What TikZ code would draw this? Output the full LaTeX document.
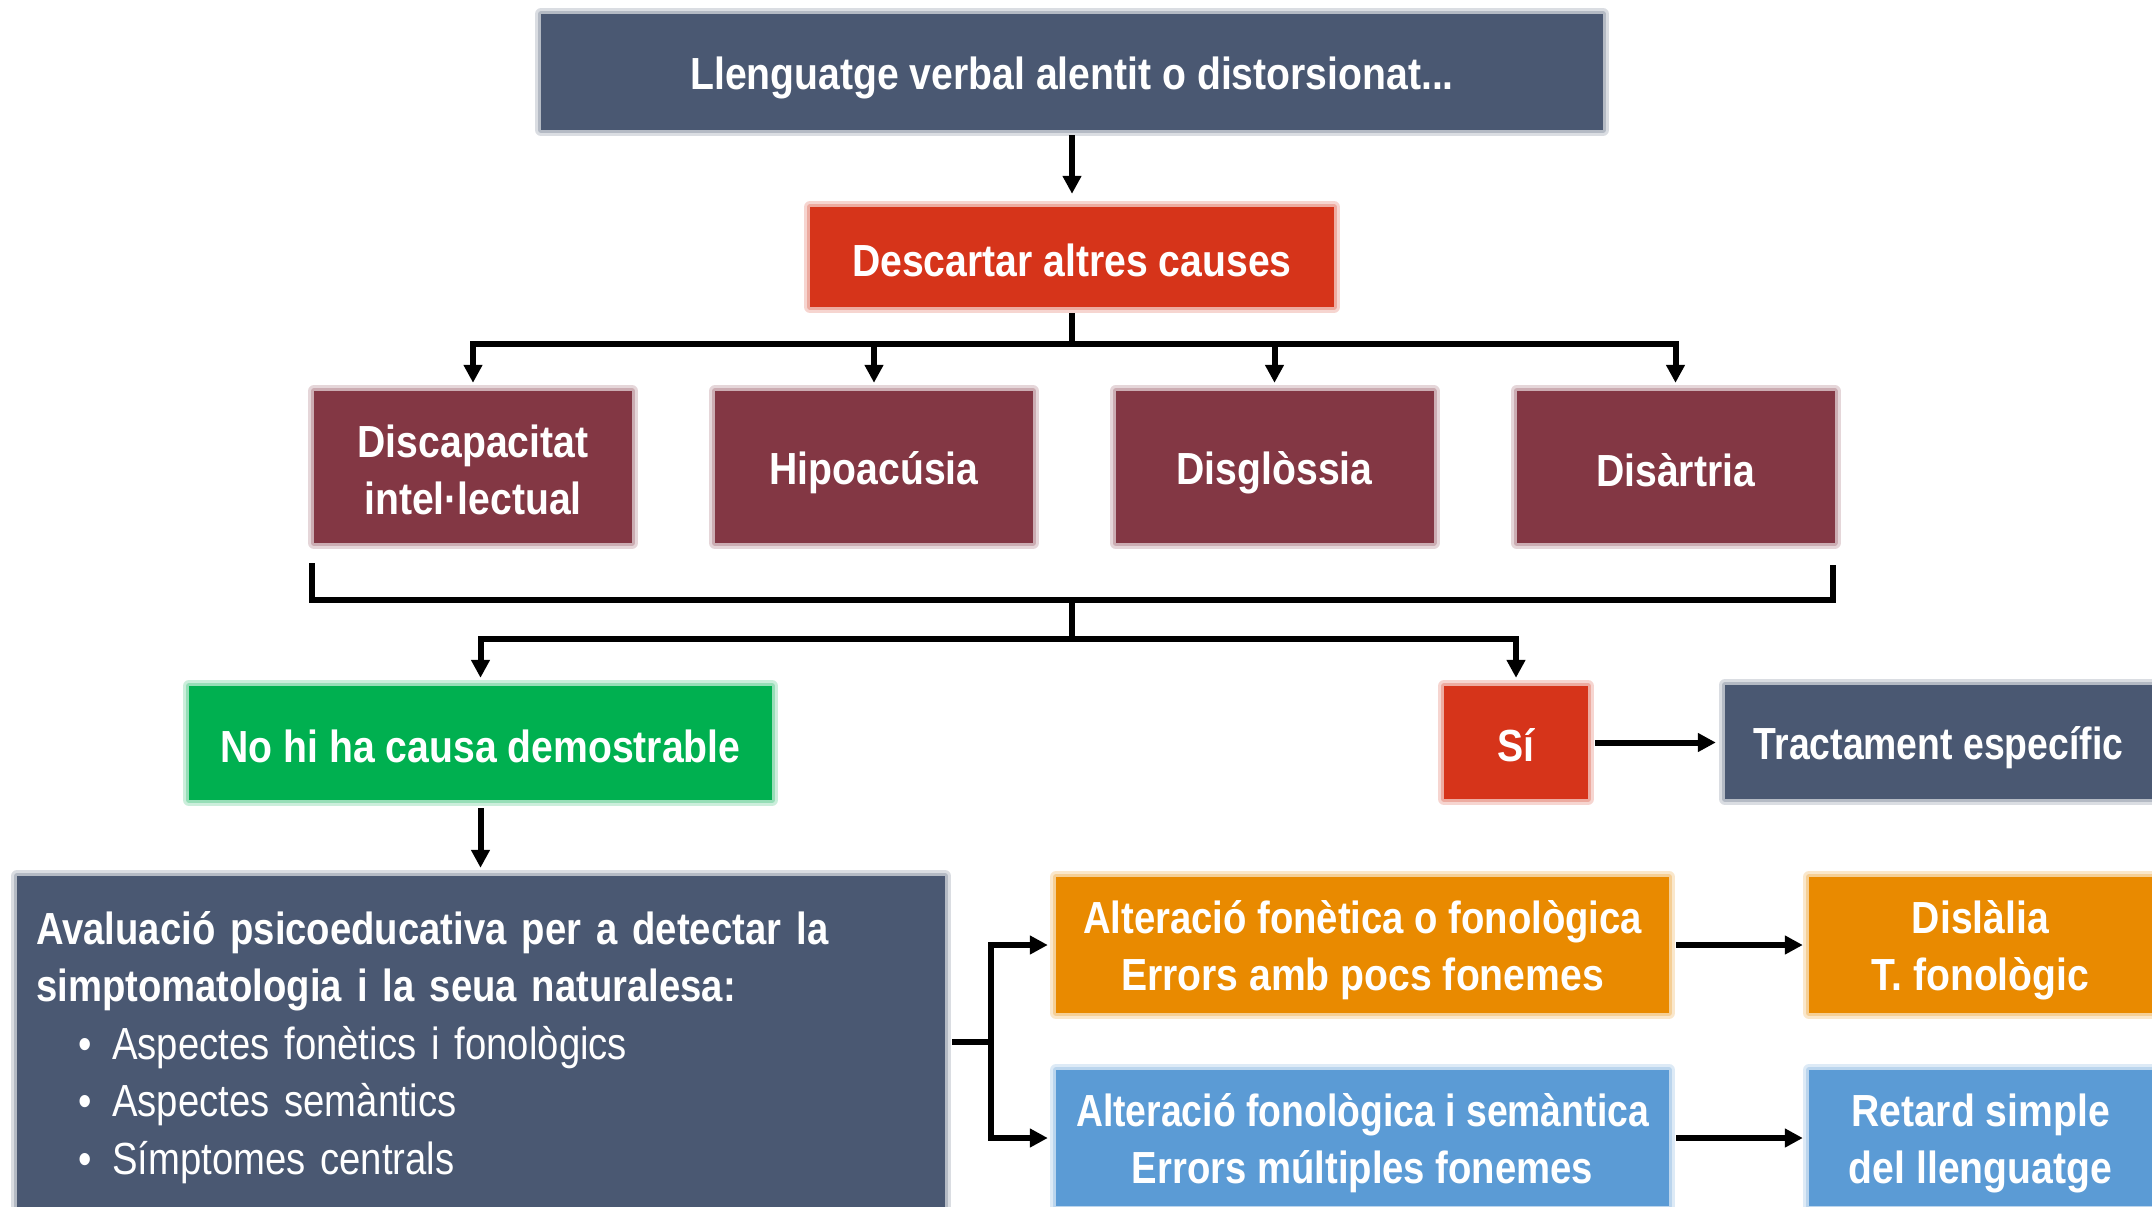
\documentclass[tikz,border=0pt]{standalone}
\usepackage{fontspec}
\setmainfont{Liberation Sans}[FakeStretch=0.87]
\newfontfamily\fsA{Liberation Sans}[FakeStretch=0.85]
\newfontfamily\fsB{Liberation Sans}[FakeStretch=0.83]
\usetikzlibrary{arrows.meta}
\definecolor{slate}{HTML}{4A5872}
\definecolor{cred}{HTML}{D6341A}
\definecolor{maroon}{HTML}{833744}
\definecolor{cgreen}{HTML}{00B050}
\definecolor{corange}{HTML}{E98A00}
\definecolor{cblue}{HTML}{5B9BD5}
\newcommand\mystrut{\rule[-6pt]{0pt}{50pt}}
\newcommand\mybul{\makebox[76pt][l]{\hspace*{42pt}•}}
\tikzset{
  box/.style={rectangle, fill=#1, text=white, inner sep=0pt, align=center,
    font=\bfseries\fontsize{45}{57}\selectfont,
    preaction={draw=#1!45!white, line width=12pt, line join=round, opacity=0.45},
    preaction={draw=#1!55!white, line width=6pt, line join=round, opacity=0.6}},
  conn/.style={line width=6pt, black},
  arr/.style={conn, -{Triangle[length=18pt,width=18pt]}},
}
\begin{document}
\begin{tikzpicture}[x=1pt,y=-1pt]
\clip (0,0) rectangle (2152,1207);
\fill[white] (0,0) rectangle (2152,1207);
% nodes
\node[box=slate, minimum width=1062pt, minimum height=116pt] (top) at (1072,72) {\mystrut Llenguatge verbal alentit o distorsionat...};
\node[box=cred, minimum width=524pt, minimum height=100pt] (desc) at (1072,257) {\mystrut Descartar altres causes};
\node[box=maroon, minimum width=318pt, minimum height=152pt] (m1) at (473,467) {\mystrut Discapacitat\\\mystrut intel·lectual};
\node[box=maroon, minimum width=318pt, minimum height=152pt] (m2) at (874,467) {\mystrut Hipoacúsia};
\node[box=maroon, minimum width=318pt, minimum height=152pt] (m3) at (1274.5,467) {\mystrut Disglòssia};
\node[box=maroon, minimum width=318pt, minimum height=152pt] (m4) at (1675.5,467) {\mystrut Disàrtria};
\node[box=cgreen, minimum width=583pt, minimum height=114pt] (green) at (480.5,743) {\mystrut No hi ha causa demostrable};
\node[box=cred, minimum width=144pt, minimum height=113pt] (si) at (1516,742.5) {\mystrut Sí};
\node[box=slate, minimum width=427pt, minimum height=114pt] (tract) at (1938.5,742) {\fsB\mystrut Tractament específic};
\node[box=slate, minimum width=928pt, minimum height=364pt] (big) at (481,1058) {};
\node[anchor=north west, inner sep=0pt, text width=900pt, align=left, text=white,
  font=\bfseries\fontsize{45}{57.5}\selectfont\fsA] (bigtxt) at (36,892)
  {\rule{0pt}{52pt}Avaluació psicoeducativa per a detectar la\\
   simptomatologia i la seua naturalesa:\\
   {\mdseries\mybul Aspectes fonètics i fonològics}\\
   {\mdseries\mybul Aspectes semàntics}\\
   {\mdseries\mybul Símptomes centrals}};
\node[box=corange, minimum width=613pt, minimum height=136pt] (or1) at (1362.5,945) {\fsA\mystrut Alteració fonètica o fonològica\\\mystrut Errors amb pocs fonemes};
\node[box=corange, minimum width=343pt, minimum height=136pt] (or2) at (1980.5,945) {\mystrut Dislàlia\\\mystrut T. fonològic};
\node[box=cblue, minimum width=613pt, minimum height=136pt] (bl1) at (1362.5,1138) {\fsB\mystrut Alteració fonològica i semàntica\\\fsA\mystrut Errors múltiples fonemes};
\node[box=cblue, minimum width=343pt, minimum height=136pt] (bl2) at (1980.5,1138) {\mystrut Retard simple\\\mystrut del llenguatge};
% coordinates
\coordinate (j1) at (1072,600);
\coordinate (j2) at (1072,639);
\coordinate (j3) at (991,1042);
% connectors
\draw[arr, shorten <=5pt, shorten >=13pt] (top) -- (desc);
\foreach \m in {m1,m2,m3,m4}
  \draw[arr, shorten <=6pt, shorten >=8pt] (desc.south) -- ++(0,37) -| (\m.north);
\draw[conn] ([xshift=-2pt,yshift=-20pt]m1.south west) |- (j1) -| ([xshift=-2pt,yshift=-22pt]m4.south east);
\draw[conn] (j1) -- (j2);
\draw[arr, shorten >=8pt] (j2) -| (green.north);
\draw[arr, shorten >=8pt] (j2) -| (si.north);
\draw[arr, shorten <=8pt, shorten >=8pt] (green.south) -- (green.south |- big.north);
\draw[arr, shorten <=7pt, shorten >=9pt] (si.east) -- (si.east -| tract.west);
\draw[conn, shorten <=7pt] (big.east |- j3) -- (j3);
\draw[arr, shorten >=8pt] (j3) |- (or1.west);
\draw[arr, shorten >=8pt] (j3) |- (bl1.west);
\draw[arr, shorten <=7pt, shorten >=6pt] (or1.east) -- (or2.west);
\draw[arr, shorten <=7pt, shorten >=6pt] (bl1.east) -- (bl2.west);
\end{tikzpicture}
\end{document}
